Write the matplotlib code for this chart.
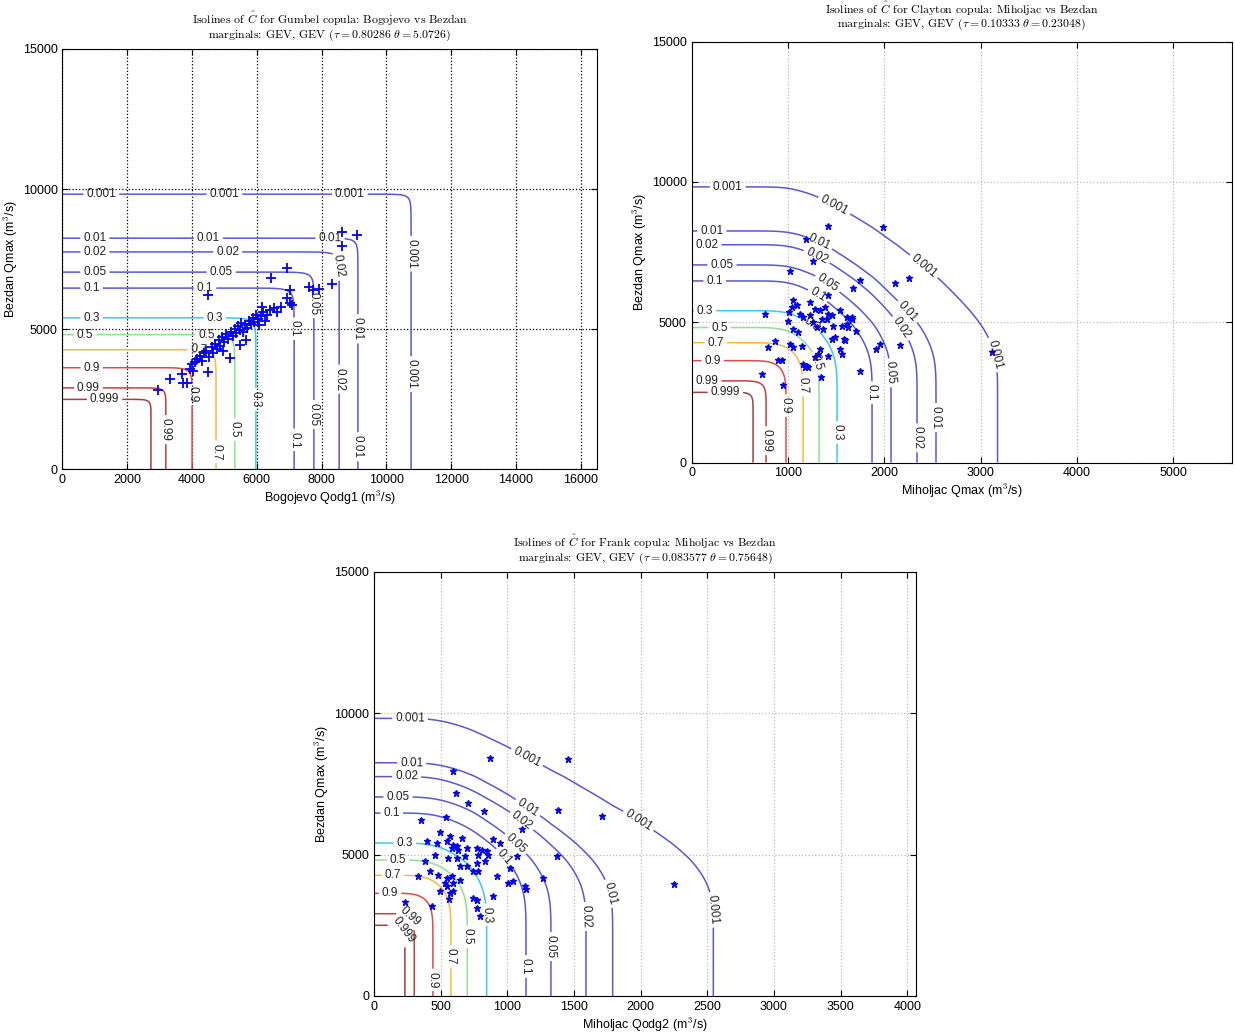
import numpy as np
import matplotlib.pyplot as plt

plt.rcParams['font.family'] = ['Liberation Sans', 'DejaVu Sans']
plt.rcParams['mathtext.fontset'] = 'cm'

# contour levels of the joint exceedance probability
levels = np.array([0.001, 0.01, 0.02, 0.05, 0.1, 0.3, 0.5, 0.7, 0.9, 0.99, 0.999])
level_colors = ['#5858d8', '#5858d8', '#5858d8', '#5858d8', '#5858d8',
                '#3cc8f0', '#90e090', '#f5b942', '#e04a4a', '#c04040', '#a04040']

# marginal quantiles read at the isoline asymptotes (m3/s), same order as levels
bezdan_q = np.array([9820, 8250, 7760, 7040, 6470, 5410, 4810, 4270, 3630, 2910, 2500])
bogojevo_q = np.array([10760, 9120, 8540, 7760, 7150, 5970, 5320, 4740, 4000, 3190, 2730])
miholjac_q = np.array([3176, 2537, 2340, 2070, 1873, 1510, 1323, 1157, 980, 773, 638])
miholjac2_q = np.array([2545, 1790, 1590, 1327, 1140, 845, 700, 577, 442, 302, 232])

theta_gumbel = 5.0726
theta_clayton = 0.23048
theta_frank = 0.75648

# observations
gumbel_x = [2960, 3320, 3680, 3730, 3830, 3940, 3990, 4090, 4500, 4030,
            4150, 4250, 4300, 4360, 4440, 4520, 4600, 4650, 4700, 4760,
            4820, 4870, 4920, 5000, 5060, 5120, 5170, 5210, 5260, 5310,
            5360, 5420, 5470, 5520, 5570, 5620, 5700, 5760, 5820, 5870,
            5920, 5970, 6020, 6060, 6120, 6200, 6260, 6320, 6420, 6520,
            6620, 6760, 6920, 7020, 7070, 6430, 6920, 7020, 7620, 7740,
            7930, 8310, 4500, 8620, 9100, 8620, 5480, 4960, 5660, 6150]
gumbel_y = [2840, 3240, 3400, 3080, 3100, 3600, 3760, 3820, 3460, 3520,
            3950, 4060, 3880, 4160, 4230, 4000, 4360, 4150, 4460, 4300,
            4620, 4420, 4720, 4560, 4820, 4660, 3980, 4900, 4760, 5010,
            4860, 5100, 4960, 5210, 4920, 5150, 5060, 5300, 5200, 5420,
            5260, 5500, 5360, 5160, 5460, 5620, 5300, 5520, 5700, 5760,
            5600, 5800, 6100, 5950, 5880, 6840, 7200, 6400, 6520, 6400,
            6430, 6600, 6220, 8470, 8350, 7960, 4450, 4220, 4620, 5800]

clayton_x = [1413, 1991, 1188, 1264, 1022, 1749, 1673, 2112, 2261, 1413,
             1056, 1091, 1039, 1125, 1229, 1281, 1333, 1385, 1420, 1402,
             1454, 1350, 1229, 1160, 1264, 1299, 1368, 1004, 1056, 1108,
             1541, 1558, 1610, 1662, 1627, 1472, 1489, 1454, 1541, 1558,
             1582, 1143, 1022, 1056, 866, 797, 900, 935, 1333, 1316,
             1420, 1160, 1195, 1212, 1177, 1281, 727, 946, 1340, 1748,
             1956, 1914, 2164, 762, 1015, 1610, 1662, 1707, 1593, 3116]
clayton_y = [8429, 8393, 7979, 7168, 6821, 6514, 6214, 6393, 6571, 5954,
             5775, 5596, 5536, 5298, 5715, 5477, 5417, 5536, 5298, 5120,
             5239, 5120, 5239, 5179, 4999, 4822, 4762, 5036, 4762, 4643,
             5417, 4882, 4941, 5120, 4822, 4882, 4465, 4405, 4048, 3870,
             4405, 4167, 4227, 4108, 4346, 4132, 3667, 3667, 4048, 3870,
             3810, 3513, 3453, 3393, 3393, 3751, 3155, 2763, 3036, 3274,
             4227, 4048, 4203, 5275, 5358, 5179, 5179, 4680, 4382, 3930]

frank_x = [870, 1452, 590, 615, 707, 825, 1377, 1712, 540, 352,
           1107, 495, 570, 657, 545, 395, 470, 595, 620, 582,
           632, 695, 770, 807, 845, 782, 857, 895, 945, 1070,
           1369, 457, 557, 620, 682, 645, 695, 770, 832, 382,
           420, 332, 482, 545, 582, 645, 532, 595, 545, 745,
           782, 920, 1020, 1007, 1045, 1132, 1269, 495, 570, 595,
           895, 745, 770, 770, 795, 232, 432, 565, 2250, 1140]
frank_y = [8428, 8369, 7955, 7187, 6832, 6537, 6572, 6383, 6324, 6241,
           5910, 5792, 5650, 5591, 5473, 5473, 5414, 5355, 5296, 5237,
           5178, 5237, 5237, 5178, 5118, 5000, 5000, 5556, 5414, 4941,
           4941, 5000, 4882, 4882, 4941, 4586, 4586, 4705, 4764, 4764,
           4409, 4232, 4291, 4173, 4232, 4114, 3995, 3995, 3877, 4409,
           4409, 4232, 4527, 3995, 4055, 3877, 4173, 3700, 3641, 3700,
           3523, 3464, 3405, 3109, 2813, 3310, 3191, 3428, 3960, 3794]


def marginal_cdf(x, q):
    # piecewise linear in the Gumbel reduced variate between the read quantiles
    z = -np.log(-np.log(1 - levels))
    order = np.argsort(q)
    qs, zs = q[order].astype(float), z[order]
    zi = np.interp(x, qs, zs)
    lo = x < qs[0]
    zi[lo] = zs[0] + (x[lo] - qs[0]) * (zs[1] - zs[0]) / (qs[1] - qs[0])
    hi = x > qs[-1]
    zi[hi] = zs[-1] + (x[hi] - qs[-1]) * (zs[-1] - zs[-2]) / (qs[-1] - qs[-2])
    return np.clip(np.exp(-np.exp(-zi)), 1e-12, 1 - 1e-12)


def gumbel_c(u, v, t):
    return np.exp(-((-np.log(u)) ** t + (-np.log(v)) ** t) ** (1 / t))


def clayton_c(u, v, t):
    return (u ** -t + v ** -t - 1) ** (-1 / t)


def frank_c(u, v, t):
    return -np.log(1 + (np.exp(-t * u) - 1) * (np.exp(-t * v) - 1) / (np.exp(-t) - 1)) / t


def panel(ax, qx, cop, theta, xmax, px, py, marker, lab_h, lab_v, lab_c, dark_grid):
    xs = np.linspace(0, xmax, 900)
    ys = np.linspace(0, 15000, 900)
    X, Y = np.meshgrid(xs, ys)
    U = marginal_cdf(X, qx)
    V = marginal_cdf(Y, bezdan_q)
    Z = 1 - U - V + cop(U, V, theta)
    ax.set_xlim(0, xmax)
    ax.set_ylim(0, 15000)
    for i, lev in enumerate(levels):
        cs = ax.contour(X, Y, Z, levels=[lev], colors=[level_colors[i]], linewidths=1.1)
        pos = [(h, bezdan_q[i]) for h in lab_h[i]]
        pos += [(qx[i], v) for v in lab_v[i]]
        pos += list(lab_c[i])
        if pos:
            ax.clabel(cs, manual=pos, inline=True, inline_spacing=3,
                      fmt=lambda v: f'{v:g}', fontsize=8.5, colors='#222222')
    if marker == '+':
        ax.plot(px, py, '+', color='blue', ms=7, mew=1.3, ls='none')
    else:
        ax.plot(px, py, '*', color='blue', ms=5, ls='none')
    if dark_grid:
        ax.grid(True, color='black', ls=':', lw=0.9)
    else:
        ax.grid(True, color='#bbbbbb', ls=':', lw=0.9)
    ax.tick_params(direction='in', top=True, right=True, labelsize=9, length=4)
    ax.set_yticks([0, 5000, 10000, 15000])
    ax.set_ylabel('Bezdan Qmax (m$^3$/s)', fontsize=9, labelpad=2)


def two_line_title(ax, line1, line2, off1, off2):
    for txt, off in ((line1, off1), (line2, off2)):
        ax.annotate(txt, xy=(0.5, 1), xycoords='axes fraction', xytext=(0, off),
                    textcoords='offset pixels', ha='center', va='center',
                    fontsize=8.5, family='cmr10')


fig = plt.figure(figsize=(12.35, 10.35), dpi=100)

ax1 = fig.add_axes([0.0506, 0.5464, 0.4328, 0.4063])
panel(ax1, bogojevo_q, gumbel_c, theta_gumbel, 16500, gumbel_x, gumbel_y, '+',
      [[1200, 5000, 8870], [1000, 4500, 8260], [1000, 5100], [1000, 4900], [900, 4400],
       [900, 4700], [700, 4450], [4200], [900], [800], [1300]],
      [[7700, 3400], [5020, 810], [7250, 3220], [5920, 1960], [5020, 1060],
       [2500], [1420], [630], [2680], [1420], []],
      [[]] * 11, True)
ax1.set_xticks(np.arange(0, 16001, 2000))
ax1.set_xlabel('Bogojevo Qodg1 (m$^3$/s)', fontsize=9, labelpad=2)
two_line_title(ax1, 'Isolines of $\\hat{C}$ for Gumbel copula: Bogojevo vs Bezdan',
               'marginals: GEV, GEV ($\\tau = 0.80286\\ \\theta = 5.0726$)', 30, 14)

ax2 = fig.add_axes([0.5600, 0.5531, 0.4376, 0.4068])
panel(ax2, miholjac_q, clayton_c, theta_clayton, 5610, clayton_x, clayton_y, '*',
      [[375], [210], [160], [315], [240], [140], [290], [250], [220], [160], [350]],
      [[3870], [1600], [880], [3200], [2490], [1070], [], [2760], [2030], [780], []],
      [[(1490, 9210), (2400, 6950)], [(1316, 7800), (2217, 5300)],
       [(1281, 7200), (2166, 4770)], [(1385, 6240)], [(1299, 5890)],
       [(1230, 4830)], [(1281, 3550)], [], [], [], []], False)
ax2.set_xticks(np.arange(0, 5001, 1000))
ax2.set_xlabel('Miholjac Qmax (m$^3$/s)', fontsize=9, labelpad=2)
two_line_title(ax2, 'Isolines of $\\hat{C}$ for Clayton copula: Miholjac vs Bezdan',
               'marginals: GEV, GEV ($\\tau = 0.10333\\ \\theta = 0.23048$)', 33, 17)

ax3 = fig.add_axes([0.3028, 0.0377, 0.4389, 0.4097])
panel(ax3, miholjac2_q, frank_c, theta_frank, 4065, frank_x, frank_y, '*',
      [[270], [283], [245], [180], [133], [232], [180], [142], [120], [], []],
      [[3050], [3650], [2810], [1750], [1040], [2870], [2100], [1390], [570], [], []],
      [[(1145, 8429), (1981, 6181)], [(1145, 6596)], [(1107, 6181)], [(1045, 5296)],
       [(982, 4940)], [], [], [], [], [(260, 2750)], [(200, 2300)]], False)
ax3.set_xticks(np.arange(0, 4001, 500))
ax3.set_xlabel('Miholjac Qodg2 (m$^3$/s)', fontsize=9, labelpad=2)
two_line_title(ax3, 'Isolines of $\\hat{C}$ for Frank copula: Miholjac vs Bezdan',
               'marginals: GEV, GEV ($\\tau = 0.083577\\ \\theta = 0.75648$)', 30, 14)

fig.savefig('out.png', dpi=100)
